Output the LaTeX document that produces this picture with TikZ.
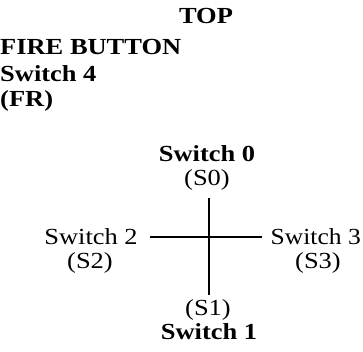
\documentclass[tikz,border=0pt]{standalone}
\usepackage{fontspec}
\setmainfont{Liberation Serif}
% slightly widened lettering
\newcommand{\widetext}[1]{\scalebox{1.15}[1]{#1}}
\begin{document}
\begin{tikzpicture}[x=1pt,y=-1pt,
  toplabel/.style={inner sep=0pt,anchor=base west,font=\fontsize{23}{27}\selectfont\bfseries},
  swlabel/.style={inner sep=0pt,anchor=base,font=\fontsize{23}{27}\selectfont},
  swbold/.style={swlabel,font=\fontsize{23}{27}\selectfont\bfseries},
  stick/.style={line width=1.8pt}]
\useasboundingbox (0,0) rectangle (363,351);

% heading and fire button
\node[toplabel,anchor=base] (top) at (206,23) {\widetext{TOP}};
\node[toplabel] (fire) at (0,54) {\widetext{FIRE BUTTON}};
\node[toplabel] (sw4) at (0,81) {\widetext{Switch 4}};
\node[toplabel] (fr) at (0,106) {\widetext{(FR)}};

% joystick cross
\coordinate (n) at (209,198);
\coordinate (s) at (209,295);
\coordinate (w) at (150,237);
\coordinate (e) at (262,237);
\draw[stick] (n) -- (s);
\draw[stick] (w) -- (e);

% direction labels
\node[swbold] (sw0) at (207,161) {\widetext{Switch 0}};
\node[swlabel] (s0) at (207,185) {\widetext{(S0)}};
\node[swlabel] (sw2) at (91,244) {\widetext{Switch 2}};
\node[swlabel] (s2) at (90,268) {\widetext{(S2)}};
\node[swlabel,anchor=base east] (sw3) at (361,244) {\scalebox{1.11}[1]{Switch 3}};
\node[swlabel] (s3) at (318,268) {\widetext{(S3)}};
\node[swlabel] (s1) at (208,315) {\widetext{(S1)}};
\node[swbold] (sw1) at (209,339) {\widetext{Switch 1}};
\end{tikzpicture}
\end{document}
